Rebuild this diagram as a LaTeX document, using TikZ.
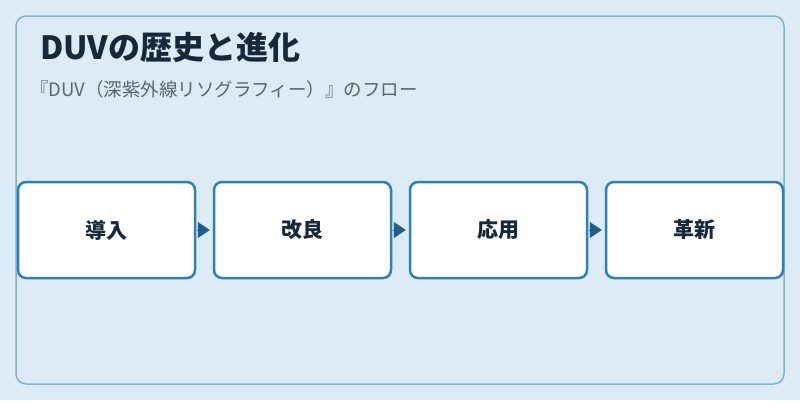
\documentclass[tikz,border=0pt]{standalone}
\usepackage{fontspec}
\setmainfont{Noto Sans CJK JP}
\usetikzlibrary{arrows.meta}
\definecolor{pagebg}{HTML}{DCEBF6}
\definecolor{framec}{HTML}{7FB2D6}
\definecolor{boxline}{HTML}{2E80B8}
\definecolor{titlec}{HTML}{16293A}
\definecolor{subc}{HTML}{5A6672}
\definecolor{arrowc}{HTML}{1F5E8C}

\begin{document}
\begin{tikzpicture}[x=1pt,y=-1pt]
	\tikzstyle{frame}=[draw=framec,line width=1.5pt,rounded corners=10pt]
	\tikzstyle{stage}=[draw=boxline,fill=white,line width=2.5pt,rounded corners=8pt,minimum width=177pt,minimum height=96pt,inner sep=0pt,text=titlec,font=\fontsize{21}{24}\selectfont\bfseries]
	\tikzstyle{flow}=[draw=arrowc,line width=0.5pt,shorten <=1pt,shorten >=3pt,-{Triangle[length=12pt,width=16pt,fill=arrowc]}]
	\fill [pagebg] (0,0) rectangle (800,400);
	\useasboundingbox (0,0) rectangle (800,400);
	\draw [frame] (16,16) rectangle (784,384);
	\node (title) at (40,59) [anchor=base west,inner sep=0pt,text=titlec,font=\fontsize{32}{36}\selectfont\bfseries] {DUVの歴史と進化};
	\node (sub) at (30,96) [anchor=base west,inner sep=0pt,text=subc,font=\fontsize{18.5}{20}\selectfont] {『DUV（深紫外線リソグラフィー）』のフロー};
	\node (s1) at (106.5,230) [stage] {導入};
	\node (s2) at (302.5,230) [stage] {改良};
	\node (s3) at (498.5,230) [stage] {応用};
	\node (s4) at (694.5,230) [stage] {革新};
	\draw [flow] (s1.east) -- (s2.west);
	\draw [flow] (s2.east) -- (s3.west);
	\draw [flow] (s3.east) -- (s4.west);
\end{tikzpicture}
\end{document}
